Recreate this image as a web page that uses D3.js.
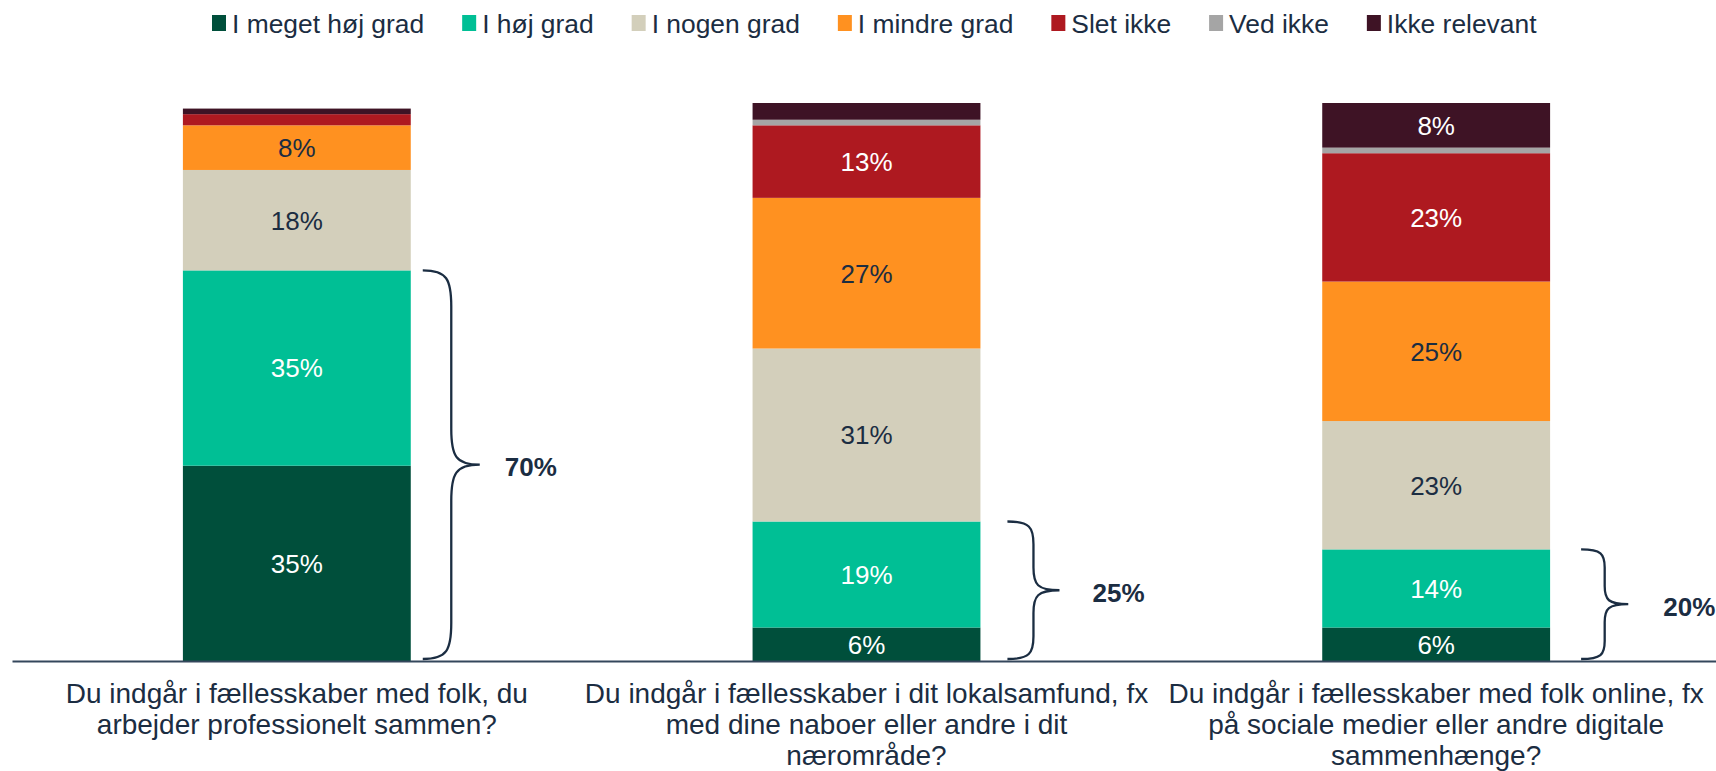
<!DOCTYPE html>
<html>
<head>
<meta charset="utf-8">
<script src="https://cdn.jsdelivr.net/npm/d3@7"></script>
<style>
  html, body { margin: 0; padding: 0; background: #ffffff; }
  svg { display: block; font-family: "Liberation Sans", Arial, sans-serif; }
</style>
</head>
<body>
<svg id="chart" width="1716" height="771"></svg>
<script>
// Question texts, already broken into display lines
const categories = [
  ["Du indgår i fællesskaber med folk, du", "arbejder professionelt sammen?"],
  ["Du indgår i fællesskaber i dit lokalsamfund, fx", "med dine naboer eller andre i dit", "nærområde?"],
  ["Du indgår i fællesskaber med folk online, fx", "på sociale medier eller andre digitale", "sammenhænge?"]
];

// Answer categories (stack order, bottom to top)
const seriesNames = ["I meget høj grad", "I høj grad", "I nogen grad", "I mindre grad", "Slet ikke", "Ved ikke", "Ikke relevant"];

// Shares in percent, one value per question
const megetHoejGrad = [35, 6, 6];
const hoejGrad      = [35, 19, 14];
const nogenGrad     = [18, 31, 23];
const mindreGrad    = [8, 27, 25];
const sletIkke      = [2, 13, 23];
const vedIkke       = [0, 1, 1];
const ikkeRelevant  = [1, 3, 8];

const seriesValues = [megetHoejGrad, hoejGrad, nogenGrad, mindreGrad, sletIkke, vedIkke, ikkeRelevant];

// Styling
const seriesColors = ["#004f3b", "#00bf95", "#d3cfbb", "#ff9120", "#ae1920", "#a5a5a5", "#3e1325"];
const lightText = [true, true, false, false, true, false, true];
const ink = "#1b2d42";

const svg = d3.select("#chart");

// Table for the stack layout
const rows = categories.map((c, i) => {
  const r = { idx: i };
  seriesNames.forEach((s, k) => { r[s] = seriesValues[k][i]; });
  return r;
});

const x = d3.scaleBand()
  .domain(d3.range(categories.length))
  .range([12, 1721])
  .paddingInner(0.6)
  .paddingOuter(0.3);

const y = d3.scaleLinear()
  .domain([0, 100])
  .range([661, 103]);

const stacked = d3.stack().keys(seriesNames)(rows);

// Bars
const layers = svg.append("g").attr("class", "bars")
  .selectAll("g")
  .data(stacked)
  .join("g")
  .attr("fill", (d, k) => seriesColors[k]);

layers.selectAll("rect")
  .data(d => d)
  .join("rect")
  .attr("x", d => x(d.data.idx))
  .attr("width", x.bandwidth())
  .attr("y", d => y(d[1]))
  .attr("height", d => y(d[0]) - y(d[1]));

// Value labels inside segments
const labels = svg.append("g").attr("class", "values")
  .attr("font-size", 26)
  .attr("text-anchor", "middle");

stacked.forEach((layer, k) => {
  labels.selectAll(null)
    .data(layer.filter(d => d[1] - d[0] >= 5))
    .join("text")
    .attr("x", d => x(d.data.idx) + x.bandwidth() / 2)
    .attr("y", d => (y(d[0]) + y(d[1])) / 2)
    .attr("dy", "0.36em")
    .attr("fill", lightText[k] ? "#ffffff" : ink)
    .text(d => (d[1] - d[0]) + "%");
});

// Baseline axis
const axis = svg.append("g")
  .attr("transform", `translate(0,${y(0)})`)
  .call(d3.axisBottom(x).tickSize(0).tickFormat(""));
axis.select(".domain").attr("stroke", "#34475c").attr("stroke-width", 2);

// Question labels under each bar
const catG = svg.append("g").attr("class", "categories")
  .attr("font-size", 28)
  .attr("fill", ink)
  .attr("text-anchor", "middle");

categories.forEach((lines, i) => {
  const t = catG.append("text")
    .attr("x", x(i) + x.bandwidth() / 2)
    .attr("y", 703);
  lines.forEach((ln, j) => {
    t.append("tspan")
      .attr("x", x(i) + x.bandwidth() / 2)
      .attr("y", 703 + j * 31)
      .text(ln);
  });
});

// Curly braces summing the two top answer levels
const braceGap = [12, 27, 31];
const labelGap = [25, 33, 35];

function bracePath(xt, y0, y1) {
  const h = (y1 - y0) / 2;
  const ym = y0 + h;
  const w = Math.min(57, 28 + h * 0.35);
  const xs = xt + w / 2;
  const xp = xt + w;
  const r = Math.min(h * 0.33, 36);
  return [
    `M${xt},${y0}`,
    `C${xt + (xs - xt) * 0.85},${y0} ${xs},${y0 + r * 0.25} ${xs},${y0 + r}`,
    `L${xs},${ym - r}`,
    `C${xs},${ym - r * 0.25} ${xs + (xp - xs) * 0.15},${ym} ${xp},${ym}`,
    `C${xs + (xp - xs) * 0.15},${ym} ${xs},${ym + r * 0.25} ${xs},${ym + r}`,
    `L${xs},${y1 - r}`,
    `C${xs},${y1 - r * 0.25} ${xt + (xs - xt) * 0.85},${y1} ${xt},${y1}`
  ].join(" ");
}

const braces = svg.append("g").attr("class", "braces");
categories.forEach((c, i) => {
  const total = megetHoejGrad[i] + hoejGrad[i];
  const xt = x(i) + x.bandwidth() + braceGap[i];
  const y0 = y(total);
  const y1 = y(0) - 2;
  const h = (y1 - y0) / 2;
  const w = Math.min(57, 28 + h * 0.35);
  braces.append("path")
    .attr("d", bracePath(xt, y0, y1))
    .attr("fill", "none")
    .attr("stroke", ink)
    .attr("stroke-width", 2.3);
  braces.append("text")
    .attr("x", xt + w + labelGap[i])
    .attr("y", y0 + h + 2)
    .attr("dy", "0.36em")
    .attr("font-size", 26)
    .attr("font-weight", "bold")
    .attr("fill", ink)
    .text(total + "%");
});

// Legend across the top
const legend = svg.append("g").attr("class", "legend").attr("font-size", 26.4).attr("fill", ink);
let lx = 212;
seriesNames.forEach((s, k) => {
  legend.append("rect")
    .attr("x", lx)
    .attr("y", 15)
    .attr("width", 14)
    .attr("height", 16)
    .attr("fill", seriesColors[k]);
  const t = legend.append("text")
    .attr("x", lx + 20)
    .attr("y", 33)
    .text(s);
  lx += 20 + t.node().getComputedTextLength() + 38;
});
</script>
</body>
</html>
